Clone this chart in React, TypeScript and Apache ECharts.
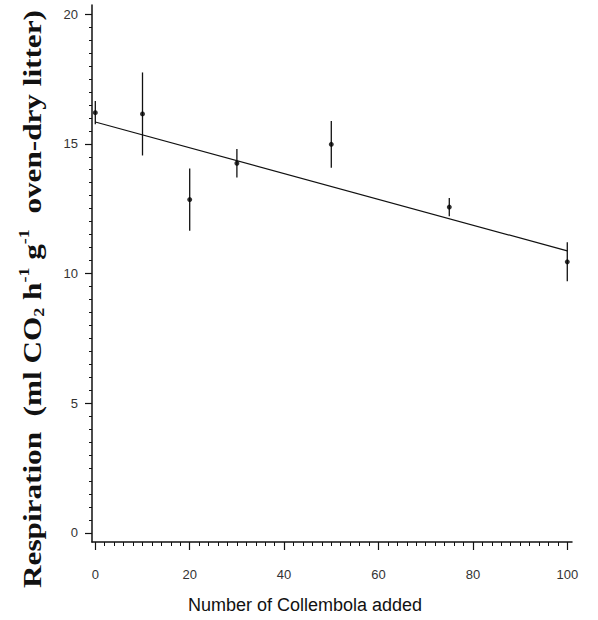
import React, { useEffect, useRef } from "react";
import * as echarts from "echarts";

const counts = [0, 10, 20, 30, 50, 75, 100];
const means = [16.2, 16.15, 12.85, 14.25, 14.98, 12.56, 10.45];
const errors = [0.45, 1.6, 1.2, 0.55, 0.9, 0.35, 0.75];
const fitX = [0, 100];
const fitY = [15.84, 10.87];
const xMajorTicks = [0, 20, 40, 60, 80, 100];
const xMinorTicks = [2, 4, 6, 8, 10, 12, 14, 16, 18, 22, 24, 26, 28, 30, 32, 34, 36, 38, 42, 44, 46, 48, 50, 52, 54, 56, 58, 62, 64, 66, 68, 70, 72, 74, 76, 78, 82, 84, 86, 88, 90, 92, 94, 96, 98];
const yMajorTicks = [0, 5, 10, 15, 20];
const yMinorTicks = [0.5, 1, 1.5, 2, 2.5, 3, 3.5, 4, 4.5, 5.5, 6, 6.5, 7, 7.5, 8, 8.5, 9, 9.5, 10.5, 11, 11.5, 12, 12.5, 13, 13.5, 14, 14.5, 15.5, 16, 16.5, 17, 17.5, 18, 18.5, 19, 19.5];

export default function App() {
  const ref = useRef<HTMLDivElement>(null);
  useEffect(() => {
    document.body.style.margin = "0";
    const chart = echarts.init(ref.current!, null, { renderer: "svg" });
    const X_MIN = -0.7, X_MAX = 101, Y_MIN = -0.35, Y_MAX = 20.35;
    const axisBase = { min: X_MIN, max: X_MAX, type: "value" as const };
    const yBase = { min: Y_MIN, max: Y_MAX, type: "value" as const };
    const labelStyle = { color: "#333", fontFamily: "Liberation Sans", fontSize: 13 };
    chart.setOption({
      animation: false,
      backgroundColor: "#fff",
      grid: { left: 92, right: 26, top: 5, bottom: 78 },
      xAxis: [
        {
          ...axisBase,
          position: "bottom",
          axisLine: { show: true, onZero: false, lineStyle: { color: "#111", width: 1.5 } },
          axisTick: { show: true, customValues: xMajorTicks, length: 8, inside: false, lineStyle: { color: "#111", width: 1.2 } },
          axisLabel: { show: true, customValues: xMajorTicks, margin: 26, ...labelStyle },
          splitLine: { show: false },
        },
        {
          ...axisBase,
          position: "bottom",
          axisLine: { show: false, onZero: false },
          axisTick: { show: true, customValues: xMinorTicks, length: 4, lineStyle: { color: "#111", width: 1 } },
          axisLabel: { show: false },
          splitLine: { show: false },
        },
      ],
      yAxis: [
        {
          ...yBase,
          position: "left",
          axisLine: { show: true, onZero: false, lineStyle: { color: "#111", width: 1.5 } },
          axisTick: { show: true, customValues: yMajorTicks, length: 7, lineStyle: { color: "#111", width: 1.2 } },
          axisLabel: { show: true, customValues: yMajorTicks, margin: 14, ...labelStyle },
          splitLine: { show: false },
        },
        {
          ...yBase,
          position: "left",
          axisLine: { show: false, onZero: false },
          axisTick: { show: true, customValues: yMinorTicks, length: 3, lineStyle: { color: "#111", width: 1 } },
          axisLabel: { show: false },
          splitLine: { show: false },
        },
      ],
      graphic: [
        {
          type: "text",
          x: 305,
          y: 605,
          style: {
            text: "Number of Collembola added",
            fontFamily: "Liberation Sans",
            fontSize: 18,
            fill: "#111",
            align: "center",
            verticalAlign: "middle",
          },
        },
        {
          type: "text",
          x: 32,
          y: 299,
          rotation: Math.PI / 2,
          scaleX: 1.2,
          style: {
            text: "Respiration  (ml CO{sub|2} h{sup|-1} g{sup|-1}  oven-dry litter)",
            fontFamily: "Liberation Serif",
            fontWeight: "bold",
            fontSize: 26,
            fill: "#111",
            align: "center",
            verticalAlign: "middle",
            lineHeight: 30,
            rich: {
              sub: { fontFamily: "Liberation Serif", fontWeight: "bold", fontSize: 15, lineHeight: 30, verticalAlign: "bottom", fill: "#111" },
              sup: { fontFamily: "Liberation Serif", fontWeight: "bold", fontSize: 15, lineHeight: 30, verticalAlign: "top", fill: "#111" },
            },
          },
        },
      ],
      series: [
        {
          type: "custom",
          xAxisIndex: 0,
          yAxisIndex: 0,
          data: counts.map((c, i) => [c, means[i] - errors[i], means[i] + errors[i]]),
          renderItem: (params: any, api: any) => {
            const x = api.value(0);
            const lo = api.coord([x, api.value(1)]);
            const hi = api.coord([x, api.value(2)]);
            return {
              type: "line",
              shape: { x1: lo[0], y1: lo[1], x2: hi[0], y2: hi[1] },
              style: { stroke: "#111", lineWidth: 1.3 },
            };
          },
          z: 2,
        },
        {
          type: "line",
          xAxisIndex: 0,
          yAxisIndex: 0,
          data: fitX.map((x, i) => [x, fitY[i]]),
          symbol: "none",
          lineStyle: { color: "#111", width: 1.2 },
          z: 3,
        },
        {
          type: "scatter",
          xAxisIndex: 0,
          yAxisIndex: 0,
          data: counts.map((c, i) => [c, means[i]]),
          symbol: "circle",
          symbolSize: 5,
          itemStyle: { color: "#000" },
          z: 4,
        },
      ],
    });
    return () => chart.dispose();
  }, []);
  return <div ref={ref} style={{ width: 598, height: 620 }} />;
}
